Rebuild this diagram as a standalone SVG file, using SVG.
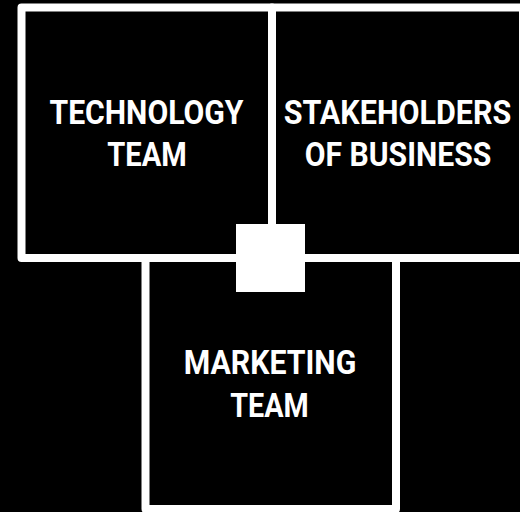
<svg xmlns="http://www.w3.org/2000/svg" width="520" height="512" viewBox="0 0 520 512">
<style>
.box{fill:none;stroke:#ffffff;stroke-width:8;stroke-linejoin:round}
.lbl{font-family:"Roboto","Liberation Sans",sans-serif;font-weight:700;font-size:32.5px;fill:#ffffff;text-anchor:middle}
</style>
<rect x="0" y="0" width="520" height="512" fill="#000000"/>
<g id="technology-team">
<rect class="box" x="21.5" y="7.5" width="250.5" height="250.5"/>
<text class="lbl" x="146.5" y="123.5" textLength="194" lengthAdjust="spacingAndGlyphs">TECHNOLOGY</text>
<text class="lbl" x="147" y="166" textLength="79.5" lengthAdjust="spacingAndGlyphs">TEAM</text>
</g>
<g id="stakeholders-of-business">
<rect class="box" x="272" y="7.5" width="251" height="250.5"/>
<text class="lbl" x="397.5" y="123.5" textLength="227.5" lengthAdjust="spacingAndGlyphs">STAKEHOLDERS</text>
<text class="lbl" x="398" y="166" textLength="186.5" lengthAdjust="spacingAndGlyphs">OF BUSINESS</text>
</g>
<g id="marketing-team">
<rect class="box" x="145.5" y="258" width="250.5" height="251"/>
<text class="lbl" x="270" y="374" textLength="172.5" lengthAdjust="spacingAndGlyphs">MARKETING</text>
<text class="lbl" x="269.5" y="416.5" textLength="78.5" lengthAdjust="spacingAndGlyphs">TEAM</text>
</g>
<g id="connectors">
<rect id="center-square" x="236" y="224" width="69" height="68" fill="#ffffff"/>
</g>
</svg>
